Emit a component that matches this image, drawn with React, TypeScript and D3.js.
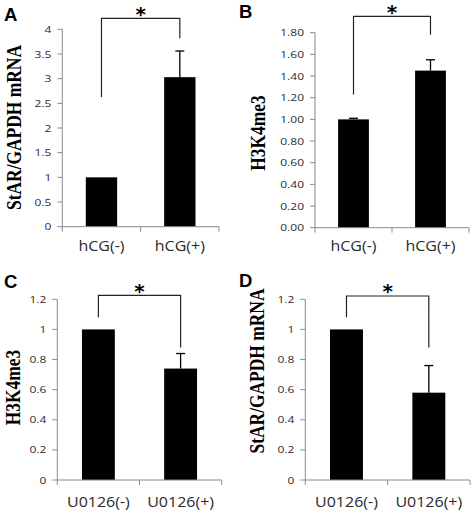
import React from "react";
import * as d3 from "d3";

// ---------- data ----------
const catsHCG = ["hCG(-)", "hCG(+)"];
const catsU0126 = ["U0126(-)", "U0126(+)"];

const valuesA = [1.0, 3.03];
const errorsA = [0, 0.53];
const ticksA = [0, 0.5, 1, 1.5, 2, 2.5, 3, 3.5, 4];
const tickLabelsA = ["0", "0.5", "1", "1.5", "2", "2.5", "3", "3.5", "4"];
const bracketA = [2.63, 4.22, 3.82]; // left leg end, top, right leg end

const valuesB = [1.0, 1.45];
const errorsB = [0.01, 0.1];
const ticksB = [0, 0.2, 0.4, 0.6, 0.8, 1.0, 1.2, 1.4, 1.6, 1.8];
const tickLabelsB = ["0.00", "0.20", "0.40", "0.60", "0.80", "1.00", "1.20", "1.40", "1.60", "1.80"];
const bracketB = [1.23, 1.95, 1.78];

const valuesC = [1.0, 0.74];
const errorsC = [0, 0.1];
const ticksCD = [0, 0.2, 0.4, 0.6, 0.8, 1.0, 1.2];
const tickLabelsCD = ["0", "0.2", "0.4", "0.6", "0.8", "1", "1.2"];
const bracketC = [1.08, 1.226, 0.88];

const valuesD = [1.0, 0.58];
const errorsD = [0, 0.18];
const bracketD = [1.08, 1.222, 0.88];

const titleStAR = "StAR/GAPDH mRNA";
const titleH3 = "H3K4me3";

// ---------- panel ----------
type PanelProps = {
  letter: string;
  letterX: number;
  letterY: number;
  title: string;
  titleX: number;
  titleY: number;
  cats: string[];
  values: number[];
  errors: number[];
  ticks: number[];
  tickLabels: string[];
  bracket: number[];
  left: number;
  right: number;
  top: number;
  bottom: number;
  catBaseline: number;
};

const AXIS = "#8a8a8a";
const TXT = "#2a2a2a";

function Panel(p: PanelProps) {
  const yMax = p.ticks[p.ticks.length - 1];
  const y = d3.scaleLinear().domain([0, yMax]).range([p.bottom, p.top]);
  const x = d3.scaleBand<string>().domain(p.cats).range([p.left, p.right]).padding(0);
  const bw = x.bandwidth();
  const barW = bw * 0.4;
  const cx = (c: string) => (x(c) as number) + bw / 2;
  const boundaries = [p.left, ...p.cats.map((c) => (x(c) as number) + bw)];
  const [lEnd, bTop, rEnd] = p.bracket;
  const xl = cx(p.cats[0]);
  const xr = cx(p.cats[1]);
  const mid = (p.left + p.right) / 2;
  const yTop = y(bTop);
  return (
    <g>
      {/* panel letter */}
      <text x={p.letterX} y={p.letterY} fontFamily="'Liberation Sans', Arial, sans-serif" fontWeight="bold" fontSize={18.5} fill="#000">
        {p.letter}
      </text>
      {/* y title */}
      <text
        transform={`translate(${p.titleX},${p.titleY}) rotate(-90) scale(0.83,1)`}
        textAnchor="middle"
        fontFamily="'Liberation Serif', 'Times New Roman', serif"
        fontWeight="bold"
        fontSize={21}
        fill="#000"
      >
        {p.title}
      </text>
      {/* y axis */}
      <line x1={p.left} x2={p.left} y1={p.top} y2={p.bottom} stroke={AXIS} strokeWidth={1} />
      {p.ticks.map((t, i) => (
        <g key={"t" + i}>
          <line x1={p.left - 5} x2={p.left} y1={y(t)} y2={y(t)} stroke={AXIS} strokeWidth={1} />
          <text
            transform={`translate(${p.left - 11},${y(t)}) scale(1,0.82)`}
            dy="0.36em"
            textAnchor="end"
            fontFamily="'Open Sans', sans-serif"
            fontSize={12}
            fill={TXT}
          >
            {p.tickLabels[i]}
          </text>
        </g>
      ))}
      {/* bars */}
      {p.cats.map((c, i) => (
        <rect key={"b" + i} x={cx(c) - barW / 2} y={y(p.values[i])} width={barW} height={p.bottom - y(p.values[i])} fill="#000" />
      ))}
      {/* error bars */}
      {p.cats.map((c, i) =>
        p.errors[i] > 0 ? (
          <g key={"e" + i} stroke="#000" strokeWidth={1.3}>
            <line x1={cx(c)} x2={cx(c)} y1={y(p.values[i])} y2={y(p.values[i] + p.errors[i])} />
            <line x1={cx(c) - 4.5} x2={cx(c) + 4.5} y1={y(p.values[i] + p.errors[i])} y2={y(p.values[i] + p.errors[i])} />
          </g>
        ) : null
      )}
      {/* x axis */}
      <line x1={p.left} x2={p.right} y1={p.bottom} y2={p.bottom} stroke={AXIS} strokeWidth={1} />
      {boundaries.map((b, i) => (
        <line key={"xt" + i} x1={b} x2={b} y1={p.bottom} y2={p.bottom + 5} stroke={AXIS} strokeWidth={1} />
      ))}
      {p.cats.map((c, i) => (
        <text
          key={"c" + i}
          transform={`translate(${cx(c)},${p.catBaseline}) scale(1,0.88)`}
          textAnchor="middle"
          fontFamily="'Open Sans', sans-serif"
          fontSize={16}
          fill={TXT}
        >
          {c}
        </text>
      ))}
      {/* significance bracket */}
      <path
        d={`M${xl},${y(lEnd)}V${yTop}H${xr}V${y(rEnd)}`}
        fill="none"
        stroke="#222"
        strokeWidth={1.2}
      />
      <text x={mid} y={yTop - 8.7 + 11} textAnchor="middle" fontFamily="'DejaVu Sans', sans-serif" fontWeight="bold" fontSize={20} fill="#000">
        *
      </text>
    </g>
  );
}

export default function App() {
  return (
    <svg width={472} height={513} style={{ position: "absolute", left: 0, top: 0, background: "#fff" }}>
      <rect width={472} height={513} fill="#fff" />
      <Panel
        letter="A" letterX={4} letterY={21}
        title={titleStAR} titleX={20.7} titleY={127.5}
        cats={catsHCG} values={valuesA} errors={errorsA}
        ticks={ticksA} tickLabels={tickLabelsA} bracket={bracketA}
        left={62.3} right={219} top={29.3} bottom={226.7} catBaseline={250.5}
      />
      <Panel
        letter="B" letterX={239} letterY={18}
        title={titleH3} titleX={264.5} titleY={133}
        cats={catsHCG} values={valuesB} errors={errorsB}
        ticks={ticksB} tickLabels={tickLabelsB} bracket={bracketB}
        left={315} right={469} top={32.7} bottom={227.7} catBaseline={250.5}
      />
      <Panel
        letter="C" letterX={4} letterY={288}
        title={titleH3} titleX={20} titleY={387.5}
        cats={catsU0126} values={valuesC} errors={errorsC}
        ticks={ticksCD} tickLabels={tickLabelsCD} bracket={bracketC}
        left={57.3} right={221.7} top={299.3} bottom={480} catBaseline={506.5}
      />
      <Panel
        letter="D" letterX={239} letterY={287}
        title={titleStAR} titleX={264} titleY={371}
        cats={catsU0126} values={valuesD} errors={errorsD}
        ticks={ticksCD} tickLabels={tickLabelsCD} bracket={bracketD}
        left={305.3} right={470} top={299.3} bottom={480} catBaseline={506.5}
      />
    </svg>
  );
}
